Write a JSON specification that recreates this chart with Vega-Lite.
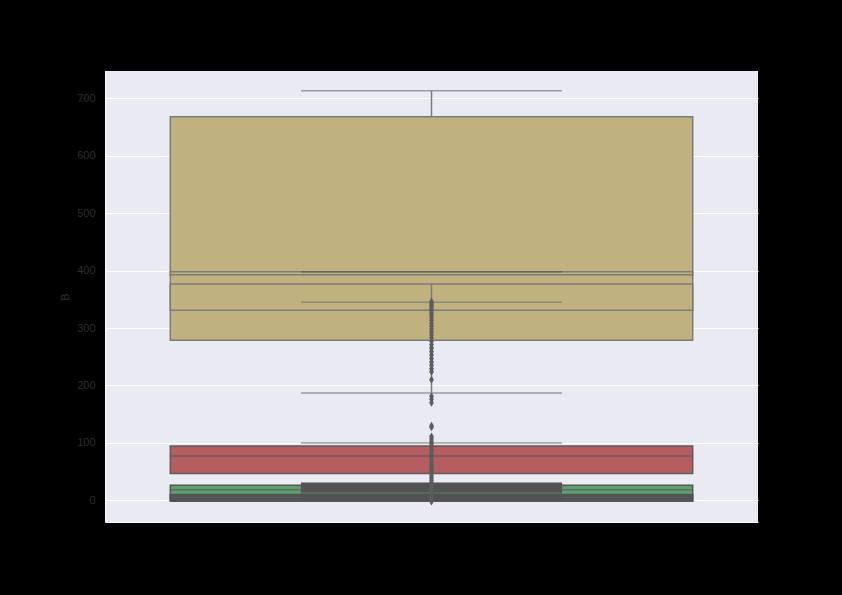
{
  "$schema": "https://vega.github.io/schema/vega-lite/v6.json",
  "width": 653,
  "height": 451,
  "autosize": {"type": "none"},
  "padding": {"left": 105, "top": 71, "right": 84, "bottom": 73},
  "background": "#000000",
  "config": {
    "view": {"fill": "#eaeaf2", "stroke": null},
    "font": "Liberation Sans"
  },
  "datasets": {
    "boxes": [
      {"g": "yellow", "q1": 278.8, "q3": 667.9},
      {"g": "yellow", "q1": 331.1, "q3": 376.4},
      {"g": "yellow", "q1": 392.6, "q3": 397.8},
      {"g": "red", "q1": 46.5, "q3": 94.6},
      {"g": "green", "q1": -1.2, "q3": 26.1},
      {"g": "gray", "q1": -1.2, "q3": 9.9}
    ],
    "blocks": [
      {"g": "gray", "lo": -1.2, "hi": 30.8}
    ],
    "medians": [
      {"g": "red", "v": 77.2},
      {"g": "green", "v": 18.4}
    ],
    "greenlines": [
      {"g": "green", "v": 12.7}
    ],
    "whiskers": [
      {"g": "yellow", "lo": 667.9, "hi": 713.2},
      {"g": "yellow", "lo": 187.0, "hi": 376.4},
      {"g": "red", "lo": -4.0, "hi": 113.0}
    ],
    "caps": [
      {"g": "yellow", "v": 713.2},
      {"g": "gray", "v": 397.8},
      {"g": "yellow", "v": 345.0},
      {"g": "yellow", "v": 187.0},
      {"g": "yellow", "v": 99.8}
    ],
    "outliers": [
      {"v": 346}, {"v": 343}, {"v": 340}, {"v": 337}, {"v": 333}, {"v": 330},
      {"v": 326}, {"v": 322}, {"v": 318}, {"v": 313}, {"v": 308}, {"v": 303},
      {"v": 298}, {"v": 293}, {"v": 288}, {"v": 283}, {"v": 277}, {"v": 271},
      {"v": 265}, {"v": 259}, {"v": 253}, {"v": 247}, {"v": 241}, {"v": 235},
      {"v": 229}, {"v": 224}, {"v": 210}, {"v": 181}, {"v": 176}, {"v": 170},
      {"v": 130}, {"v": 127}, {"v": 111}, {"v": 107}, {"v": 103}, {"v": 99},
      {"v": 95}, {"v": 91}, {"v": 87}, {"v": 83}, {"v": 79}, {"v": 75},
      {"v": 71}, {"v": 67}, {"v": 63}, {"v": 59}, {"v": 55}, {"v": 51},
      {"v": 47}, {"v": 43}, {"v": 39}, {"v": 35}, {"v": 31}, {"v": 27},
      {"v": 23}, {"v": 19}, {"v": 15}, {"v": 11}, {"v": 7}, {"v": 3}, {"v": -2}
    ]
  },
  "encoding": {
    "x": {
      "datum": "B",
      "type": "nominal",
      "scale": {"type": "band", "paddingInner": 0, "paddingOuter": 0},
      "axis": {"labels": false, "ticks": false, "title": null, "grid": false, "domainColor": "#ffffff", "domainWidth": 1}
    }
  },
  "layer": [
    {
      "data": {"name": "boxes"},
      "mark": {"type": "bar", "width": {"band": 0.8}, "strokeWidth": 1.5},
      "encoding": {
        "y": {
          "field": "q1",
          "type": "quantitative",
          "scale": {"domain": [-37.8, 747.5], "nice": false, "zero": false},
          "axis": {
            "title": "B",
            "values": [0, 100, 200, 300, 400, 500, 600, 700],
            "ticks": false,
            "labelPadding": 10,
            "labelColor": "#2e2e2e",
            "labelFontSize": 11,
            "titleColor": "#2e2e2e",
            "titleFontSize": 11,
            "titleFontWeight": "normal",
            "titlePadding": 6,
            "gridColor": "#ffffff",
            "gridWidth": 1,
            "gridOpacity": 1,
            "domainColor": "#ffffff",
            "domainWidth": 1
          }
        },
        "y2": {"field": "q3"},
        "fill": {
          "field": "g",
          "type": "nominal",
          "scale": {"domain": ["yellow", "red", "green", "gray"], "range": ["#c0b27f", "#b55d60", "#5f9e6e", "#555555"]},
          "legend": null
        },
        "stroke": {
          "field": "g",
          "type": "nominal",
          "scale": {"domain": ["yellow", "red", "green", "gray"], "range": ["#7b7b7b", "#5c5c5c", "#555555", "#505050"]},
          "legend": null
        }
      }
    },
    {
      "data": {"name": "blocks"},
      "mark": {"type": "bar", "width": {"band": 0.4}, "color": "#525252"},
      "encoding": {
        "y": {"field": "lo", "type": "quantitative"},
        "y2": {"field": "hi"}
      }
    },
    {
      "data": {"name": "medians"},
      "mark": {"type": "tick", "size": 522, "thickness": 1.5, "color": "#5a5a5a"},
      "encoding": {
        "y": {"field": "v", "type": "quantitative"}
      }
    },
    {
      "data": {"name": "greenlines"},
      "mark": {"type": "tick", "size": 522, "thickness": 1, "color": "#5f9e6e"},
      "encoding": {
        "y": {"field": "v", "type": "quantitative"}
      }
    },
    {
      "data": {"name": "whiskers"},
      "mark": {"type": "rule", "strokeWidth": 1.5},
      "encoding": {
        "y": {"field": "lo", "type": "quantitative"},
        "y2": {"field": "hi"},
        "color": {
          "field": "g",
          "type": "nominal",
          "scale": {"domain": ["yellow", "red", "green", "gray"], "range": ["#7b7b7b", "#5c5c5c", "#555555", "#5a5a5a"]},
          "legend": null
        }
      }
    },
    {
      "data": {"name": "caps"},
      "mark": {"type": "tick", "size": 261, "thickness": 1.5},
      "encoding": {
        "y": {"field": "v", "type": "quantitative"},
        "color": {
          "field": "g",
          "type": "nominal",
          "legend": null
        }
      }
    },
    {
      "data": {"name": "outliers"},
      "mark": {"type": "point", "shape": "M0,-1L0.6,0L0,1L-0.6,0Z", "size": 64, "filled": true, "color": "#5d5d5d", "opacity": 1},
      "encoding": {
        "y": {"field": "v", "type": "quantitative"}
      }
    }
  ]
}
